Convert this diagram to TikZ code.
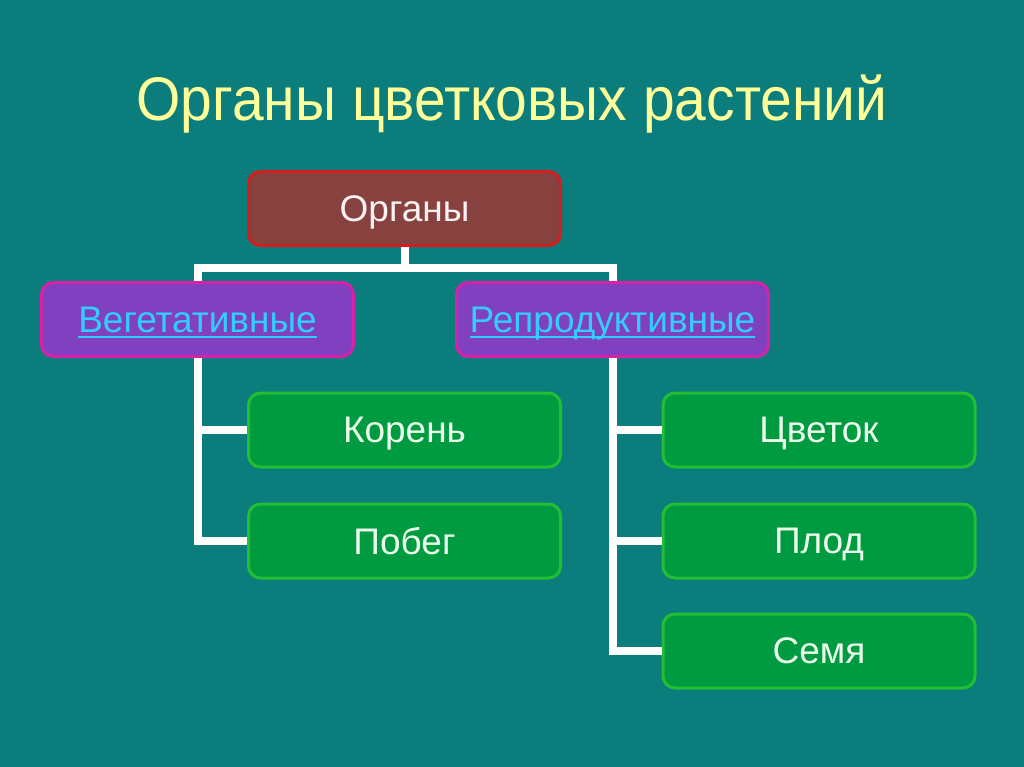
\documentclass[tikz,border=0pt]{standalone}
\usepackage{fontspec}
\setmainfont{Liberation Sans}
\usepackage{tikz}
\usetikzlibrary{positioning}
\definecolor{slidebg}{RGB}{10,125,124}
\definecolor{titleyellow}{RGB}{255,255,153}
\definecolor{topfill}{RGB}{135,66,64}
\definecolor{topborder}{RGB}{210,30,30}
\definecolor{topink}{RGB}{250,242,242}
\definecolor{groupfill}{RGB}{128,64,192}
\definecolor{groupborder}{RGB}{214,34,170}
\definecolor{linkcyan}{RGB}{51,204,255}
\definecolor{partfill}{RGB}{0,154,64}
\definecolor{partborder}{RGB}{34,190,52}
\definecolor{partink}{RGB}{236,255,236}
\tikzstyle{organ}=[rectangle, rounded corners=12pt, minimum width=312pt, minimum height=74pt, line width=3pt, text depth=0pt, font=\fontsize{37}{44}\selectfont]
\tikzstyle{topbox}=[organ, draw=topborder, fill=topfill, text=topink]
\tikzstyle{groupbox}=[organ, draw=groupborder, fill=groupfill, text=linkcyan]
\tikzstyle{partbox}=[organ, draw=partborder, fill=partfill, text=partink]
\tikzstyle{branch}=[draw=white, line width=8pt]
\newcommand{\linktext}[1]{\setbox0=\hbox{#1}\rlap{\copy0}\rule[-6pt]{\wd0}{2pt}}

\begin{document}
\begin{tikzpicture}[x=1pt, y=-1pt]

% Background
\fill[slidebg] (0,0) rectangle (1024,767);
\useasboundingbox (0,0) rectangle (1024,767);

\node[text=titleyellow, text depth=0pt, font=\fontsize{57}{68}\selectfont] (title) at (512,98) {\scalebox{1}[1.08]{Органы цветковых растений}};

% Boxes
\node[topbox] (organs) at (404.5,208.5) {Органы};
\node[groupbox] (veg) at (197.5,319.5) {\linktext{Вегетативные}};
\node[groupbox] (rep) at (612.5,319.5) {\linktext{Репродуктивные}};

\node[partbox] (root) at (404.5,430) {Корень};
\node[partbox] (shoot) at (404.5,541) {Побег};

\node[partbox] (flower) at (819,430) {Цветок};
\node[partbox] (fruit) at (819,541) {Плод};
\node[partbox] (seed) at (819,651) {Семя};

% Connectors
\draw[branch] (organs.south) -- ++(0,21) coordinate (fork) -| (veg.north);
\draw[branch] (fork) -| (rep.north);
\draw[branch] (veg.south) |- (root.west);
\draw[branch] (veg.south) |- (shoot.west);
\draw[branch] (rep.south) |- (flower.west);
\draw[branch] (rep.south) |- (fruit.west);
\draw[branch] (rep.south) |- (seed.west);

\end{tikzpicture}
\end{document}
